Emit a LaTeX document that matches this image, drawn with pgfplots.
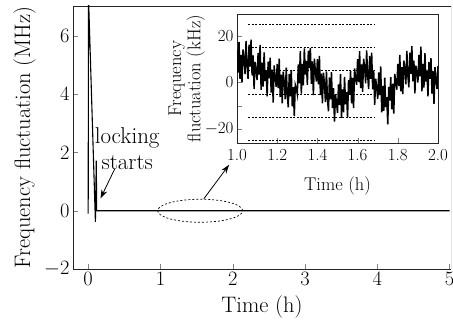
\RequirePackage{fix-cm}
\documentclass[border=0pt]{standalone}
\usepackage{pgfplots}
\pgfplotsset{compat=1.18}
\usetikzlibrary{arrows.meta}
\newcommand\mainfs{\fontsize{20.5}{24}\selectfont}
\newcommand\mainlfs{\fontsize{22.5}{26}\selectfont}
\newcommand\insfs{\fontsize{17}{18}\selectfont}
\newcommand\inslfs{\fontsize{18.5}{19.5}\selectfont}
\begin{document}
\begin{tikzpicture}
\begin{axis}[name=main,
  width=378bp, height=263bp, scale only axis,
  xmin=-0.21, xmax=5.02, ymin=-2, ymax=7.03,
  xtick={0,1,2,3,4,5}, ytick={-2,0,2,4,6},
  axis x line*=bottom, axis y line*=left,
  tick align=inside, major tick length=5bp,
  tick label style={font=\mainfs},
  label style={font=\mainlfs},
  xlabel={Time (h)}, ylabel={Frequency fluctuation (MHz)},
  xlabel style={at={(axis description cs:0.5,-0.145)},anchor=center},
  ylabel style={at={(axis description cs:-0.128,0.5)},anchor=center},
  axis line style={line width=0.8pt, draw=black!85},
  clip=true]
\draw[line width=0.8pt, draw=black!85] (rel axis cs:0,1) -- (rel axis cs:1,1) -- (rel axis cs:1,0);
\addplot[black, line width=1.1pt] coordinates {
(0,-0.1) (0.005,7.3) (0.1,-0.38) (0.112,1.72) (0.118,0.0) (0.125,0) (5,0)};
\node[font=\fontsize{23}{26}\selectfont, align=center, inner sep=0pt] at (axis cs:0.54,2.14) {locking\\starts};
\draw[-{Stealth[length=9bp,width=6bp]}, line width=0.8pt] (axis cs:0.37,1.45) -- (axis cs:0.17,0.42);
\draw[dashed, dash pattern=on 2pt off 2pt, line width=0.7pt] (axis cs:1.55,0) ellipse [x radius=42.5bp, y radius=11.5bp];
\draw[-{Stealth[length=9bp,width=6bp]}, line width=0.8pt] (axis cs:1.60,0.41) -- (axis cs:1.95,1.58);
\end{axis}
\begin{axis}[name=inset, at={(main.north west)}, anchor=north west, xshift=164bp, yshift=-8bp,
  width=201bp, height=129bp, scale only axis,
  xmin=1, xmax=2, ymin=-26, ymax=29.4,
  xtick={1,1.2,1.4,1.6,1.8,2},
  xticklabels={1.0,1.2,1.4,1.6,1.8,2.0},
  ytick={-20,-10,0,10,20}, yticklabels={$-20$,,$0$,,$20$},
  xtick pos=bottom, ytick pos=left,
  tick align=inside, major tick length=4.5bp,
  tick label style={font=\insfs},
  label style={font=\inslfs},
  xticklabel style={yshift=-3bp},
  xlabel={Time (h)}, ylabel={Frequency\\fluctuation (kHz)},
  xlabel style={at={(axis description cs:0.5,-0.335)},anchor=center},
  ylabel style={at={(axis description cs:-0.25,0.5)},anchor=center,align=center},
  axis line style={line width=0.8pt, draw=black!85},
  axis background/.style={fill=white}]
\foreach \yy in {25,15,5,-5,-15,-25} {
  \edef\tmp{\noexpand\addplot[black, line width=0.7pt, dash pattern=on 2pt off 1.5pt] coordinates {(1.055,\yy) (1.68,\yy)};}
  \tmp
}
\addplot[black, line width=1.5pt, line join=miter] coordinates {
(1.000,14) (1.005,4.2) (1.010,17.4) (1.015,1.6) (1.020,11.8) (1.025,0) (1.030,14.2) (1.035,10.4) (1.040,3.6) (1.045,17.8)
(1.050,7) (1.055,1.6) (1.060,16.2) (1.065,6.8) (1.070,18.4) (1.075,3) (1.080,11.6) (1.085,-2.8) (1.090,8.8) (1.095,5.4)
(1.100,1) (1.105,12.7) (1.110,3.4) (1.115,16.1) (1.120,-3.2) (1.125,8.5) (1.130,-1.8) (1.135,12.9) (1.140,0.6) (1.145,5.3)
(1.150,-6) (1.155,8.9) (1.160,1.8) (1.165,10.7) (1.170,-4.4) (1.175,5.5) (1.180,-8.6) (1.185,7.3) (1.190,2.2) (1.195,-1.9)
(1.200,8) (1.205,-2.4) (1.210,10.2) (1.215,-6.2) (1.220,3.4) (1.225,-9) (1.230,4.6) (1.235,0.2) (1.240,-7.2) (1.245,6.4)
(1.250,-5) (1.255,-10.7) (1.260,3.7) (1.265,-6) (1.270,5.3) (1.275,-10.3) (1.280,-2) (1.285,-14.5) (1.290,-1) (1.295,-2.5)
(1.300,-5) (1.305,7.8) (1.310,-0.4) (1.315,13.4) (1.320,-4.8) (1.325,8) (1.330,-1.2) (1.335,14.6) (1.340,3.4) (1.345,9.2)
(1.350,-1) (1.355,13.6) (1.360,6.2) (1.365,14.8) (1.370,-0.6) (1.375,9) (1.380,-5.4) (1.385,10.2) (1.390,4.8) (1.395,0.4)
(1.400,10) (1.405,-0.8) (1.410,11.4) (1.415,-5.4) (1.420,3.8) (1.425,-9) (1.430,4.2) (1.435,-0.6) (1.440,-8.4) (1.445,4.8)
(1.450,-7) (1.455,-12.4) (1.460,2.2) (1.465,-7.2) (1.470,4.4) (1.475,-11) (1.480,-2.4) (1.485,-16.8) (1.490,-5.2) (1.495,-8.6)
(1.500,-13) (1.505,-0.8) (1.510,-9.6) (1.515,3.6) (1.520,-15.2) (1.525,-3) (1.530,-12.8) (1.535,2.4) (1.540,-9.4) (1.545,-4.2)
(1.550,-15) (1.555,1) (1.560,-5) (1.565,5) (1.570,-9) (1.575,2) (1.580,-11) (1.585,6) (1.590,2) (1.595,-1)
(1.600,10) (1.605,0.2) (1.610,13.4) (1.615,-2.4) (1.620,7.8) (1.625,-4) (1.630,10.2) (1.635,6.4) (1.640,-0.4) (1.645,13.8)
(1.650,3) (1.655,-2.8) (1.660,11.4) (1.665,1.6) (1.670,12.8) (1.675,-3) (1.680,5.2) (1.685,-9.6) (1.690,1.6) (1.695,-2.2)
(1.700,-7) (1.705,4.3) (1.710,-5.4) (1.715,6.9) (1.720,-12.8) (1.725,-1.5) (1.730,-12.2) (1.735,2.1) (1.740,-10.6) (1.745,-6.3)
(1.750,-18) (1.755,-1.9) (1.760,-7.8) (1.765,2.3) (1.770,-11.6) (1.775,-0.5) (1.780,-13.4) (1.785,3.7) (1.790,-0.2) (1.795,-3.1)
(1.800,8) (1.805,-1.6) (1.810,11.8) (1.815,-3.8) (1.820,6.6) (1.825,-5) (1.830,9.4) (1.835,5.8) (1.840,-0.8) (1.845,13.6)
(1.850,3) (1.855,-2.1) (1.860,12.8) (1.865,3.7) (1.870,15.6) (1.875,0.5) (1.880,9.4) (1.885,-4.7) (1.890,7.2) (1.895,4.1)
(1.900,0) (1.905,11.8) (1.910,2.6) (1.915,15.4) (1.920,-3.8) (1.925,8) (1.930,-2.2) (1.935,12.6) (1.940,0.4) (1.945,5.2)
(1.950,-6) (1.955,8.8) (1.960,1.6) (1.965,10.4) (1.970,-4.8) (1.975,5) (1.980,-9.2) (1.985,6.6) (1.990,1.4) (1.995,-2.8)
(2.000,7)};
\end{axis}
\pgfresetboundingbox
\path ([xshift=-73bp,yshift=-55bp]main.south west) rectangle ([xshift=2bp,yshift=6bp]main.north east);
\end{tikzpicture}
\end{document}
